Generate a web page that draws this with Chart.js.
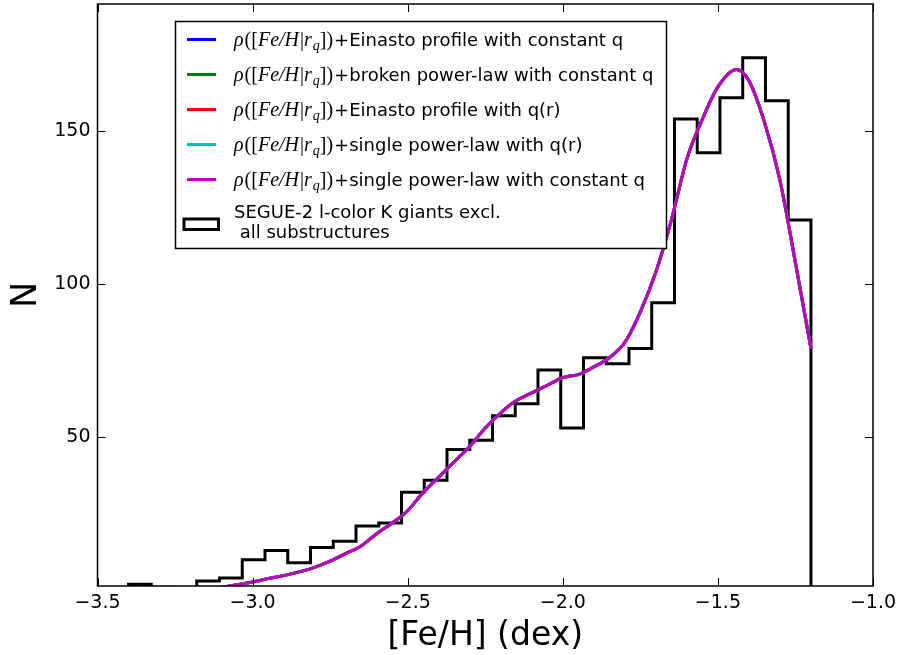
<!DOCTYPE html>
<html>
<head>
<meta charset="utf-8">
<script src="https://cdn.jsdelivr.net/npm/chart.js@4.4.1/dist/chart.umd.min.js"></script>
<style>
  html, body { margin: 0; padding: 0; background: #fff; }
</style>
</head>
<body>
<canvas id="feh" width="898" height="655"></canvas>
<script>
// histogram of SEGUE-2 K giants: 30 bins from -3.4 to -1.2
const binEdges = [-3.4, -3.32667, -3.25333, -3.18, -3.10667, -3.03333, -2.96, -2.88667, -2.81333, -2.74,
  -2.66667, -2.59333, -2.52, -2.44667, -2.37333, -2.30, -2.22667, -2.15333, -2.08, -2.00667,
  -1.93333, -1.86, -1.78667, -1.71333, -1.64, -1.56667, -1.49333, -1.42, -1.34667, -1.27333, -1.20];
const binCounts = [2, 1, 0, 3, 4, 10, 13, 9, 14, 16, 21, 22, 32, 36, 46, 49, 57, 61, 72, 53,
  76, 74, 79, 94, 154, 143, 161, 174, 160, 121];

// model curves (all five overlap, magenta drawn on top)
const modelFeH = [-3.10, -3.05, -3.00, -2.95, -2.90, -2.85, -2.80, -2.75, -2.70, -2.65, -2.60, -2.55,
  -2.50, -2.45, -2.40, -2.35, -2.30, -2.25, -2.20, -2.15, -2.10, -2.05, -2.00, -1.95, -1.90, -1.85,
  -1.80, -1.75, -1.70, -1.65, -1.60, -1.55, -1.50, -1.44, -1.40, -1.35, -1.30, -1.25, -1.20];
const modelN = [1.0, 1.8, 2.7, 3.8, 4.8, 6.0, 7.5, 9.5, 12, 14.5, 18.5, 22,
  26, 32, 37, 42, 47, 53, 58, 62, 64.5, 67, 69.5, 70.5, 73, 76,
  81, 91, 104, 121, 141, 154, 164.5, 170.2, 166.5, 153, 134, 107, 79];

const modelLabels = ['+Einasto profile with constant q', '+broken power-law with constant q',
  '+Einasto profile with q(r)', '+single power-law with q(r)', '+single power-law with constant q'];
const modelColors = ['#0000ff', '#008000', '#ff0000', '#00bfbf', '#bf00bf'];
const histLabel = ['SEGUE-2 l-color K giants excl.', ' all substructures'];

const xTicks = [-3.5, -3.0, -2.5, -2.0, -1.5, -1.0];
const yTicks = [50, 100, 150];

// step outline like matplotlib histtype='step'
const histPoints = [{x: binEdges[0], y: 0}];
binCounts.forEach((c, i) => histPoints.push({x: binEdges[i], y: c}));
histPoints.push({x: binEdges[binEdges.length - 1], y: binCounts[binCounts.length - 1]});
histPoints.push({x: binEdges[binEdges.length - 1], y: 0});

const curve = modelFeH.map((x, i) => ({x, y: modelN[i]}));

const datasets = modelColors.map((col, i) => ({
  label: modelLabels[i],
  data: curve,
  borderColor: col,
  borderWidth: 3,
  pointRadius: 0,
  cubicInterpolationMode: 'monotone',
  order: 4 - i
}));
datasets.push({
  label: histLabel.join('\n'),
  data: histPoints,
  borderColor: '#000',
  borderWidth: 3,
  pointRadius: 0,
  stepped: 'before',
  order: 10
});

const frameAndTicks = {
  id: 'frameAndTicks',
  afterDatasetsDraw(chart) {
    const {ctx, chartArea: a, scales: {x, y}} = chart;
    ctx.save();
    ctx.strokeStyle = '#000';
    ctx.lineWidth = 1;
    ctx.beginPath();
    xTicks.forEach(v => {
      const px = Math.round(x.getPixelForValue(v)) + 0.5;
      ctx.moveTo(px, a.bottom); ctx.lineTo(px, a.bottom - 8);
      ctx.moveTo(px, a.top); ctx.lineTo(px, a.top + 8);
    });
    yTicks.forEach(v => {
      const py = Math.round(y.getPixelForValue(v)) + 0.5;
      ctx.moveTo(a.left, py); ctx.lineTo(a.left + 8, py);
      ctx.moveTo(a.right, py); ctx.lineTo(a.right - 8, py);
    });
    ctx.stroke();
    ctx.lineWidth = 1.5;
    ctx.strokeRect(a.left, a.top, a.width, a.height);
    ctx.restore();
  }
};

function drawRho(ctx, x, base) {
  const parts = [['ρ', 'i'], ['([', 'n'], ['Fe/H', 'i'], ['|', 'n'], ['r', 'i'], ['q', 's'], ['])', 'n']];
  parts.forEach(([t, k]) => {
    if (k === 's') {
      ctx.font = 'italic 14px "Liberation Serif"';
      ctx.fillText(t, x, base + 4);
    } else {
      ctx.font = (k === 'i' ? 'italic ' : '') + '20px "Liberation Serif"';
      ctx.fillText(t, x, base);
    }
    x += ctx.measureText(t).width + (k === 'i' ? 1 : 0);
  });
  return x + 1;
}

const boxLegend = {
  id: 'boxLegend',
  afterDraw(chart) {
    const ctx = chart.ctx;
    ctx.save();
    ctx.fillStyle = '#fff';
    ctx.fillRect(175.5, 21.5, 491, 227);
    ctx.strokeStyle = '#000';
    ctx.lineWidth = 1.5;
    ctx.strokeRect(175.5, 21.5, 491, 227);

    ctx.textBaseline = 'alphabetic';
    ctx.textAlign = 'left';
    modelLabels.forEach((lab, i) => {
      const rowY = 39.5 + i * 35;
      ctx.strokeStyle = modelColors[i];
      ctx.lineWidth = 3;
      ctx.beginPath();
      ctx.moveTo(187, rowY); ctx.lineTo(216, rowY);
      ctx.stroke();
      ctx.fillStyle = '#000';
      const x = drawRho(ctx, 234, rowY + 6.5);
      ctx.font = '18px "DejaVu Sans"';
      ctx.fillText(lab, x, rowY + 6.5);
    });

    ctx.strokeStyle = '#000';
    ctx.lineWidth = 3;
    ctx.strokeRect(184, 219, 34.5, 10.5);
    ctx.fillStyle = '#000';
    ctx.font = '18px "DejaVu Sans"';
    ctx.fillText(histLabel[0], 234, 217.5);
    ctx.fillText(histLabel[1], 234, 237.5);
    ctx.restore();
  }
};

Chart.defaults.font.family = '"DejaVu Sans"';
Chart.defaults.color = '#000';

new Chart(document.getElementById('feh').getContext('2d'), {
  type: 'line',
  data: { datasets },
  options: {
    responsive: false,
    animation: false,
    devicePixelRatio: 1,
    layout: { padding: { top: 4, right: 25, left: 0, bottom: 0 } },
    plugins: { legend: { display: false }, tooltip: { enabled: false } },
    scales: {
      x: {
        type: 'linear',
        min: -3.5,
        max: -1.0,
        afterBuildTicks: s => { s.ticks = xTicks.map(value => ({value})); },
        afterFit: s => { s.height = 69; s.paddingLeft = 0; s.paddingRight = 0; },
        grid: { display: false, drawTicks: false },
        border: { display: false },
        ticks: {
          autoSkip: false, maxRotation: 0, padding: 6,
          font: { size: 19 },
          callback: v => Number(v).toFixed(1).replace('-', '\u2212')
        },
        title: { display: true, text: '[Fe/H] (dex)', font: { size: 33, lineHeight: 1.1 }, padding: { top: 0, bottom: 0 } }
      },
      y: {
        type: 'linear',
        min: 1.4,
        max: 191.6,
        afterBuildTicks: s => { s.ticks = yTicks.map(value => ({value})); },
        afterFit: s => { s.width = 97.5; s.paddingTop = 0; s.paddingBottom = 0; },
        grid: { display: false, drawTicks: false },
        border: { display: false },
        ticks: { padding: 7, font: { size: 19 }, callback: v => String(v) },
        title: { display: true, text: 'N', font: { size: 35, lineHeight: 1.1 }, padding: { top: 8, bottom: 0 } }
      }
    }
  },
  plugins: [frameAndTicks, boxLegend]
});
</script>
</body>
</html>
